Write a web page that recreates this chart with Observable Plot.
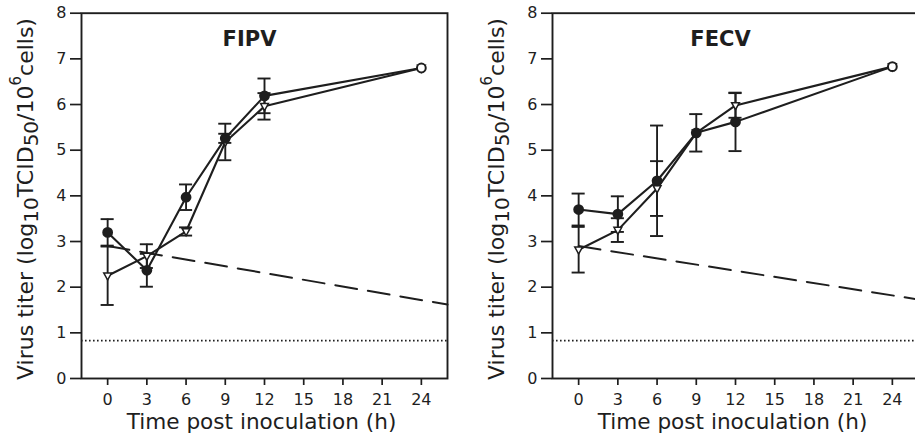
<!DOCTYPE html>
<html>
<head>
<meta charset="utf-8">
<script src="https://cdn.jsdelivr.net/npm/d3@7"></script>
<script src="https://cdn.jsdelivr.net/npm/@observablehq/plot@0.6"></script>
<style>
  html, body { margin: 0; padding: 0; background: #fff; }
  body { width: 915px; height: 442px; position: relative; overflow: hidden; }
  .panel { position: absolute; top: 0; width: 460px; height: 442px; }
  .panel svg { max-width: none !important; width: 460px; height: 442px; }
</style>
</head>
<body>
<div id="left" class="panel" style="left:0px"></div>
<div id="right" class="panel" style="left:471px"></div>
<script>
// ---- data ----
const hours = [0, 3, 6, 9, 12, 24];

const fipvFilled   = [3.20, 2.37, 3.97, 5.26, 6.19, 6.80];
const fipvFilledSd = [0.29, 0.36, 0.28, 0.10, 0.38, 0];
const fipvOpen     = [2.25, 2.68, 3.22, 5.18, 5.96, 6.80];
const fipvOpenSd   = [0.64, 0.26, 0.09, 0.40, 0.29, 0];

const fecvFilled   = [3.70, 3.60, 4.33, 5.38, 5.62, 6.83];
const fecvFilledSd = [0.35, 0.39, 1.21, 0.41, 0.64, 0];
const fecvOpen     = [2.82, 3.25, 4.16, 5.38, 5.98, 6.83];
const fecvOpenSd   = [0.50, 0.26, 0.60, 0.00, 0.27, 0];

const decayHours = [0, 26];
const fipvDecay  = [2.90, 1.62];
const fecvDecay  = [2.90, 1.73];
const detectionLimit = 0.83;

const xTicks = [0, 3, 6, 9, 12, 15, 18, 21, 24];
const yTicks = [0, 1, 2, 3, 4, 5, 6, 7, 8];
const xLabel = "Time post inoculation (h)";
const yLabelParts = [
  ["Virus titer (log", "base"], ["10", "sub"], ["TCID", "base"], ["50", "sub"],
  ["/10", "base"], ["6", "sup"], ["cells)", "base"]
];

// ---- drawing ----
const INK = "#1e1e1e";
const FONT = "DejaVu Sans";

const triDown = {
  draw(ctx, size) {
    const r = Math.sqrt(size / Math.PI);
    ctx.moveTo(-r, -r * 0.72);
    ctx.lineTo(r, -r * 0.72);
    ctx.lineTo(0, r * 1.1);
    ctx.closePath();
  }
};

function panel(title, filled, filledSd, open, openSd, decay) {
  const rows = (vals, sds) => hours.map((h, i) => ({h, v: vals[i], sd: sds[i]}));
  const F = rows(filled, filledSd);
  const O = rows(open, openSd);
  const err = [...F, ...O].filter(d => d.sd > 0);
  const caps = err.flatMap(d => [{h: d.h, y: d.v + d.sd}, {h: d.h, y: d.v - d.sd}]);
  const decayRows = decayHours.map((h, i) => ({h, v: decay[i]}));

  const svg = Plot.plot({
    width: 460, height: 442,
    marginLeft: 81, marginRight: 13, marginTop: 12.7, marginBottom: 64,
    style: {fontFamily: FONT, fontSize: "16px", color: INK, background: "transparent", overflow: "visible"},
    x: {domain: [-2, 26], axis: null},
    y: {domain: [0, 8], axis: null},
    marks: [
      Plot.ruleY([detectionLimit], {stroke: INK, strokeWidth: 1.7, strokeDasharray: "1.6,2.4"}),
      Plot.line(decayRows, {x: "h", y: "v", stroke: INK, strokeWidth: 2, strokeDasharray: "22,11"}),
      Plot.ruleX(err, {x: "h", y1: d => d.v - d.sd, y2: d => d.v + d.sd, stroke: INK, strokeWidth: 1.9}),
      Plot.ruleY(caps, {y: "y", x1: d => d.h - 0.5, x2: d => d.h + 0.5, stroke: INK, strokeWidth: 1.9}),
      Plot.line(O, {x: "h", y: "v", stroke: INK, strokeWidth: 2.1}),
      Plot.line(F, {x: "h", y: "v", stroke: INK, strokeWidth: 2.1}),
      Plot.dot(O, {x: "h", y: "v", r: 3.9, symbol: triDown, fill: "white", stroke: INK, strokeWidth: 1.5}),
      Plot.dot(F, {x: "h", y: "v", r: 4.4, fill: d => d.h === 24 ? "white" : INK, stroke: INK, strokeWidth: 2}),
      Plot.frame({stroke: INK, strokeWidth: 1.9}),
      Plot.axisX(xTicks, {anchor: "bottom", tickSize: 7, tickPadding: 8, strokeWidth: 1.7, fontSize: 16, label: null, fill: INK}),
      Plot.axisY(yTicks, {anchor: "left", tickSize: 11, tickPadding: 4, strokeWidth: 1.7, fontSize: 16, label: null, fill: INK}),
      Plot.text([title], {frameAnchor: "top", dx: -15, dy: 18, fontSize: 21, fontWeight: "bold", fill: INK}),
      Plot.text([xLabel], {frameAnchor: "bottom", dx: -3, dy: 50.6, fontSize: 21.6, fill: INK})
    ]
  });

  // y-axis label with sub/superscripts, kept as real text
  const t = d3.select(svg).append("text")
    .attr("transform", "translate(33,199) rotate(-90)")
    .attr("text-anchor", "middle")
    .attr("font-family", FONT)
    .attr("font-size", 22)
    .attr("fill", INK);
  const shift = {base: 0, sub: 5, sup: -12};
  const size = {base: 22, sub: 20, sup: 15};
  let cur = 0;
  for (const [s, kind] of yLabelParts) {
    t.append("tspan")
      .attr("dy", shift[kind] - cur)
      .attr("font-size", size[kind])
      .text(s);
    cur = shift[kind];
  }
  return svg;
}

document.getElementById("left").appendChild(
  panel("FIPV", fipvFilled, fipvFilledSd, fipvOpen, fipvOpenSd, fipvDecay));
document.getElementById("right").appendChild(
  panel("FECV", fecvFilled, fecvFilledSd, fecvOpen, fecvOpenSd, fecvDecay));
</script>
</body>
</html>
